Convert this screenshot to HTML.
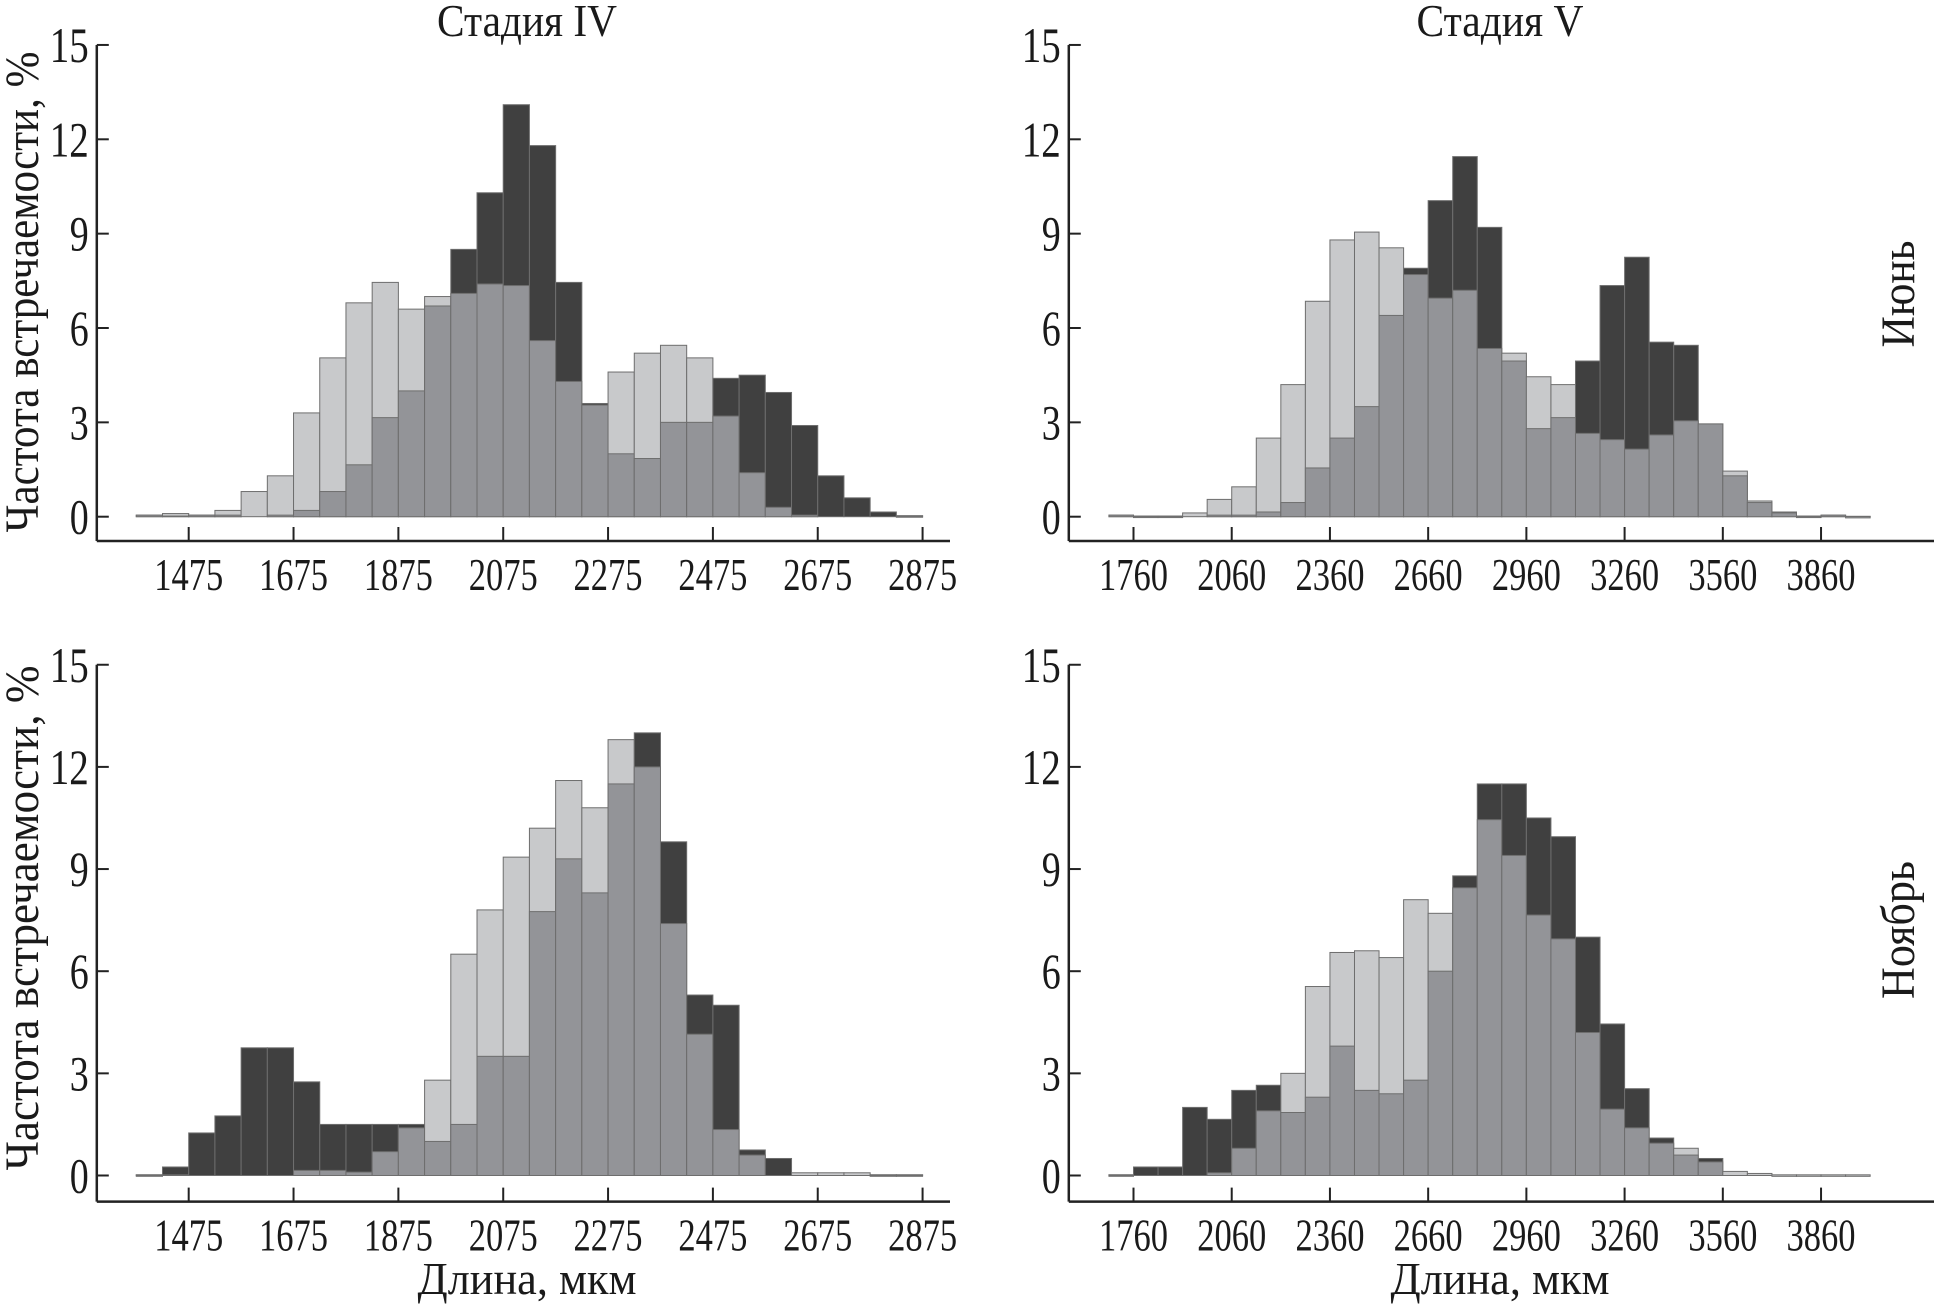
<!DOCTYPE html>
<html><head><meta charset="utf-8"><style>
html,body{margin:0;padding:0;background:#fff;}
svg{display:block;}
text{font-family:"Liberation Serif","DejaVu Serif",serif;}
</style></head><body>
<svg id="chart" width="1934" height="1307" viewBox="0 0 1934 1307" xmlns="http://www.w3.org/2000/svg"></svg>
<script>
// Stage IV bins (start, width 50)
const binsIV = [1375,1425,1475,1525,1575,1625,1675,1725,1775,1825,1875,1925,1975,2025,2075,2125,2175,2225,2275,2325,2375,2425,2475,2525,2575,2625,2675,2725,2775,2825];
// Stage V bins (start, width 75)
const binsV = [1685,1760,1835,1910,1985,2060,2135,2210,2285,2360,2435,2510,2585,2660,2735,2810,2885,2960,3035,3110,3185,3260,3335,3410,3485,3560,3635,3710,3785,3860,3935];
const ticksIV = [1475,1675,1875,2075,2275,2475,2675,2875];
const ticksV = [1760,2060,2360,2660,2960,3260,3560,3860];
const yTicks = [0,3,6,9,12,15];
// June, stage IV
const junIVLight = [0.05,0.1,0.05,0.2,0.8,1.3,3.3,5.05,6.8,7.45,6.6,7.0,7.1,7.4,7.35,5.6,4.3,3.55,4.6,5.2,5.45,5.05,3.2,1.4,0.3,0.05,0,0,0,0.03];
const junIVDark = [0.05,0.02,0.05,0.05,0,0.05,0.2,0.8,1.65,3.15,4.0,6.7,8.5,10.3,13.1,11.8,7.45,3.6,2.0,1.85,3.0,3.0,4.4,4.5,3.95,2.9,1.3,0.6,0.15,0.03];
// June, stage V
const junVLight = [0.05,0.02,0.02,0.12,0.55,0.95,2.5,4.2,6.85,8.8,9.05,8.55,7.7,6.95,7.2,5.35,5.2,4.45,4.2,2.65,2.45,2.15,2.6,3.05,2.95,1.45,0.5,0.12,0.02,0.05,0.01];
const junVDark = [0.05,0.02,0.02,0,0.05,0.05,0.15,0.45,1.55,2.5,3.5,6.4,7.9,10.05,11.45,9.2,4.95,2.8,3.15,4.95,7.35,8.25,5.55,5.45,2.95,1.3,0.45,0.15,0.02,0.05,0.01];
// November, stage IV
const novIVLight = [0.02,0.02,0,0,0,0,0.15,0.15,0.1,0.7,1.4,2.8,6.5,7.8,9.35,10.2,11.6,10.8,12.8,12.0,7.4,4.15,1.35,0.6,0,0.08,0.08,0.08,0.02,0.02];
const novIVDark = [0.02,0.25,1.25,1.75,3.75,3.75,2.75,1.5,1.5,1.5,1.5,1.0,1.5,3.5,3.5,7.75,9.3,8.3,11.5,13.0,9.8,5.3,5.0,0.75,0.5,0,0,0,0.02,0.02];
// November, stage V
const novVLight = [0.02,0,0,0,0.08,0.8,1.9,3.0,5.55,6.55,6.6,6.4,8.1,7.7,8.45,10.45,9.4,7.65,6.95,4.2,1.95,1.4,0.95,0.8,0.4,0.12,0.06,0.02,0.02,0.02,0.02];
const novVDark = [0.02,0.25,0.25,2.0,1.65,2.5,2.65,1.85,2.3,3.8,2.5,2.4,2.8,6.0,8.8,11.5,11.5,10.5,9.95,7.0,4.45,2.55,1.1,0.6,0.5,0,0,0,0,0,0];

const NS = "http://www.w3.org/2000/svg";
const svg = document.getElementById('chart');
function mk(tag, attrs, parent){
  const e = document.createElementNS(NS, tag);
  for (const k in attrs) e.setAttribute(k, attrs[k]);
  (parent||svg).appendChild(e);
  return e;
}
const FONT = '"Liberation Serif","DejaVu Serif",serif';
const C_LIGHT="#c8c9cb", C_MED="#939498", C_DARK="#404040", C_STROKE="#6e6e6e";

function panel(name, cfg){
  const g = mk('g', {});
  
  
  const xs = v => cfg.x0 + (v - cfg.xRef) * cfg.xScale;
  const ys = v => cfg.y0 - v * cfg.yScale;
  const bg = mk('g', {}, g);
  
  
  cfg.bins.forEach((b, i) => {
    const x = xs(b), w = cfg.bw * cfg.xScale;
    const L = cfg.light[i], D = cfg.dark[i], M = Math.min(L, D);
    const hi = Math.max(L, D);
    const topColor = L >= D ? C_LIGHT : C_DARK;
    const r1 = mk('rect', {x:x, y:ys(hi), width:w, height:Math.max(hi*cfg.yScale,1.5), fill:topColor, stroke:C_STROKE, 'stroke-width':1}, bg);
    
    
    if (M > 0) {
      const r2 = mk('rect', {x:x, y:ys(M), width:w, height:M*cfg.yScale, fill:C_MED, stroke:C_STROKE, 'stroke-width':1}, bg);
      
      
    }
  });
  const ya = mk('line', {x1:cfg.ax, y1:ys(15), x2:cfg.ax, y2:cfg.axisY, stroke:'#222', 'stroke-width':2.5}, g);
  
  
  const xa = mk('line', {x1:cfg.ax, y1:cfg.axisY, x2:cfg.axEnd, y2:cfg.axisY, stroke:'#222', 'stroke-width':2.5}, g);
  
  
  yTicks.forEach(t => {
    mk('line', {x1:cfg.ax, y1:ys(t), x2:cfg.ax+12, y2:ys(t), stroke:'#222', 'stroke-width':2}, g);
    const tx = mk('text', {x:cfg.ax-8, y:ys(t)+17, 'font-size':50, 'font-family':FONT, 'text-anchor':'end', fill:'#1a1a1a', textLength:(t>=10?39:19), lengthAdjust:'spacingAndGlyphs'}, g);
    tx.textContent = t;
    
    
  });
  cfg.ticks.forEach(t => {
    mk('line', {x1:xs(t), y1:cfg.axisY, x2:xs(t), y2:cfg.axisY-14, stroke:'#222', 'stroke-width':2}, g);
    const tx = mk('text', {x:xs(t), y:cfg.axisY+49, 'font-size':46, 'font-family':FONT, 'text-anchor':'middle', fill:'#1a1a1a', textLength:69, lengthAdjust:'spacingAndGlyphs'}, g);
    tx.textContent = t;
    
    
  });
}

panel('panel-june-stage-iv', {bins:binsIV, bw:50, light:junIVLight, dark:junIVDark, ticks:ticksIV,
  x0:188.7, xRef:1475, xScale:0.5242, y0:516.7, yScale:31.45, ax:96.8, axEnd:950, axisY:541});
panel('panel-june-stage-v', {bins:binsV, bw:75, light:junVLight, dark:junVDark, ticks:ticksV,
  x0:1133.5, xRef:1760, xScale:0.3274, y0:516.7, yScale:31.45, ax:1068.8, axEnd:1934, axisY:541});
panel('panel-november-stage-iv', {bins:binsIV, bw:50, light:novIVLight, dark:novIVDark, ticks:ticksIV,
  x0:188.7, xRef:1475, xScale:0.5242, y0:1175.5, yScale:34.05, ax:96.8, axEnd:950, axisY:1201.6});
panel('panel-november-stage-v', {bins:binsV, bw:75, light:novVLight, dark:novVDark, ticks:ticksV,
  x0:1133.5, xRef:1760, xScale:0.3274, y0:1175.5, yScale:34.05, ax:1068.8, axEnd:1934, axisY:1201.6});

function label(name, txt, x, y, size, rot, len){
  const t = mk('text', {x:x, y:y, 'font-size':size, 'font-family':FONT, 'text-anchor':'middle', fill:'#1a1a1a', textLength:len, lengthAdjust:'spacingAndGlyphs'});
  if (rot) t.setAttribute('transform', 'rotate(' + rot + ' ' + x + ' ' + y + ')');
  t.textContent = txt;
  
  
}
label('title-stage-iv', 'Стадия IV', 527, 36, 46, 0, 180);
label('title-stage-v', 'Стадия V', 1500, 36, 46, 0, 167);
label('y-axis-title-top', 'Частота встречаемости, %', 38, 292, 48, -90, 481);
label('y-axis-title-bottom', 'Частота встречаемости, %', 38, 918, 48, -90, 505);
label('row-label-june', 'Июнь', 1914, 294, 48, -90, 107);
label('row-label-november', 'Ноябрь', 1914, 930, 48, -90, 138);
label('x-axis-title-left', 'Длина, мкм', 527, 1294, 46, 0, 219);
label('x-axis-title-right', 'Длина, мкм', 1500, 1294, 46, 0, 219);
</script>
</body></html>
